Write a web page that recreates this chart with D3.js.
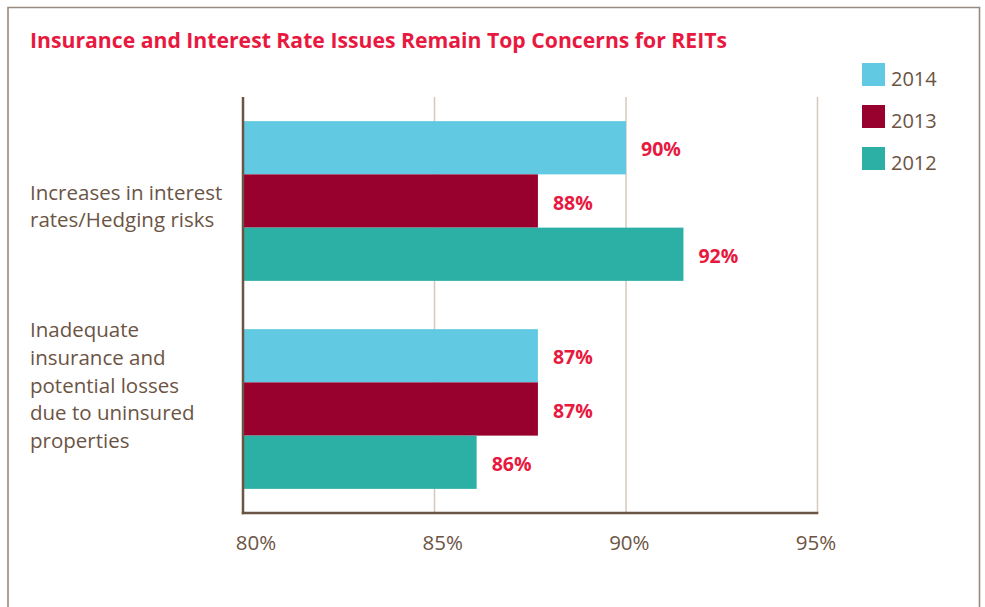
<!DOCTYPE html>
<html>
<head>
<meta charset="utf-8">
<script src="https://cdn.jsdelivr.net/npm/d3@7"></script>
<style>
  html, body { margin: 0; padding: 0; background: #ffffff; }
  svg { display: block; font-family: "Open Sans", "Noto Sans", sans-serif; }
</style>
</head>
<body>
<svg id="chart" width="985" height="607"></svg>
<script>
// ---------------- data ----------------
const title = "Insurance and Interest Rate Issues Remain Top Concerns for REITs";
const categories = [
  "Increases in interest rates/Hedging risks",
  "Inadequate insurance and potential losses due to uninsured properties"
];
const categoryLines = [
  ["Increases in interest", "rates/Hedging risks"],
  ["Inadequate", "insurance and", "potential losses", "due to uninsured", "properties"]
];
const seriesNames = ["2014", "2013", "2012"];
const values2014 = [90.0, 87.7];
const values2013 = [87.7, 87.7];
const values2012 = [91.5, 86.1];
const labels2014 = ["90%", "87%"];
const labels2013 = ["88%", "87%"];
const labels2012 = ["92%", "86%"];
const xTicks = [80, 85, 90, 95];
const xTickLabels = ["80%", "85%", "90%", "95%"];

// ---------------- styles / layout ----------------
const colors = { "2014": "#62c9e2", "2013": "#98002e", "2012": "#2cb0a6" };
const red = "#e8193f";
const brown = "#6b5444";
const gridColor = "#d4c9c1";
const frameColor = "#978a80";

const plot = { left: 243, right: 817.5, top: 97, bottom: 513 };
const labelShift = [12.5, -16.5];
const lineGap = 27.9;

const seriesValues = { "2014": values2014, "2013": values2013, "2012": values2012 };
const seriesLabels = { "2014": labels2014, "2013": labels2013, "2012": labels2012 };

const rows = [];
categories.forEach((c, i) => {
  seriesNames.forEach(s => {
    rows.push({ category: c, series: s, value: seriesValues[s][i], label: seriesLabels[s][i] });
  });
});

const svg = d3.select("#chart");

// frame
svg.append("path")
  .attr("d", "M8,607 V7.5 H979.5 V607")
  .attr("fill", "none")
  .attr("stroke", frameColor)
  .attr("stroke-width", 1.6);

// title
svg.append("text")
  .attr("x", 30).attr("y", 48)
  .attr("fill", red)
  .attr("font-weight", 700)
  .attr("font-size", 22)
  .attr("textLength", 697)
  .attr("lengthAdjust", "spacingAndGlyphs")
  .text(title);

// scales
const x = d3.scaleLinear().domain([80, 95]).range([plot.left, plot.right]);
const y = d3.scaleBand().domain(categories).range([plot.top, plot.bottom])
  .paddingInner(0.232).paddingOuter(0.116);
const ySub = d3.scaleBand().domain(seriesNames).range([0, y.bandwidth()]).padding(0);
const xLabelPos = d3.scaleLinear().domain([80, 95]).range([256, 816]);

// gridlines
svg.append("g").selectAll("line")
  .data(xTicks.filter(t => t !== 80))
  .join("line")
  .attr("x1", d => x(d)).attr("x2", d => x(d))
  .attr("y1", plot.top).attr("y2", plot.bottom)
  .attr("stroke", gridColor).attr("stroke-width", 1.5);

// bars
svg.append("g").selectAll("rect")
  .data(rows)
  .join("rect")
  .attr("x", x(80))
  .attr("y", d => y(d.category) + ySub(d.series))
  .attr("width", d => x(d.value) - x(80))
  .attr("height", ySub.bandwidth())
  .attr("fill", d => colors[d.series]);

// value labels
svg.append("g").selectAll("text")
  .data(rows)
  .join("text")
  .attr("x", d => x(d.value) + 15)
  .attr("y", d => y(d.category) + ySub(d.series) + ySub.bandwidth() / 2 + 8.5)
  .attr("fill", red)
  .attr("font-weight", 700)
  .attr("font-size", 19.5)
  .text(d => d.label);

// axis lines
svg.append("line")
  .attr("x1", x(80)).attr("x2", x(80))
  .attr("y1", plot.top).attr("y2", plot.bottom + 1.3)
  .attr("stroke", brown).attr("stroke-width", 2.5);
svg.append("line")
  .attr("x1", x(80) - 1.2).attr("x2", x(95) + 0.8)
  .attr("y1", plot.bottom).attr("y2", plot.bottom)
  .attr("stroke", brown).attr("stroke-width", 2.5);

// x tick labels
svg.append("g").selectAll("text")
  .data(xTicks)
  .join("text")
  .attr("x", d => xLabelPos(d))
  .attr("y", 549.5)
  .attr("text-anchor", "middle")
  .attr("fill", brown)
  .attr("font-size", 20.5)
  .text((d, i) => xTickLabels[i]);

// category labels
categories.forEach((c, i) => {
  const lines = categoryLines[i];
  const center = y(c) + y.bandwidth() / 2 + labelShift[i];
  const t = svg.append("text")
    .attr("fill", brown)
    .attr("font-size", 20.5);
  lines.forEach((ln, j) => {
    t.append("tspan")
      .attr("x", 30)
      .attr("y", center + (j - (lines.length - 1) / 2) * lineGap)
      .text(ln);
  });
});

// legend
const legend = svg.append("g").selectAll("g")
  .data(seriesNames)
  .join("g")
  .attr("transform", (d, i) => `translate(862, ${63 + i * 42})`);
legend.append("rect")
  .attr("width", 23).attr("height", 23)
  .attr("fill", d => colors[d]);
legend.append("text")
  .attr("x", 29).attr("y", 22.5)
  .attr("fill", brown)
  .attr("font-size", 20)
  .text(d => d);
</script>
</body>
</html>
